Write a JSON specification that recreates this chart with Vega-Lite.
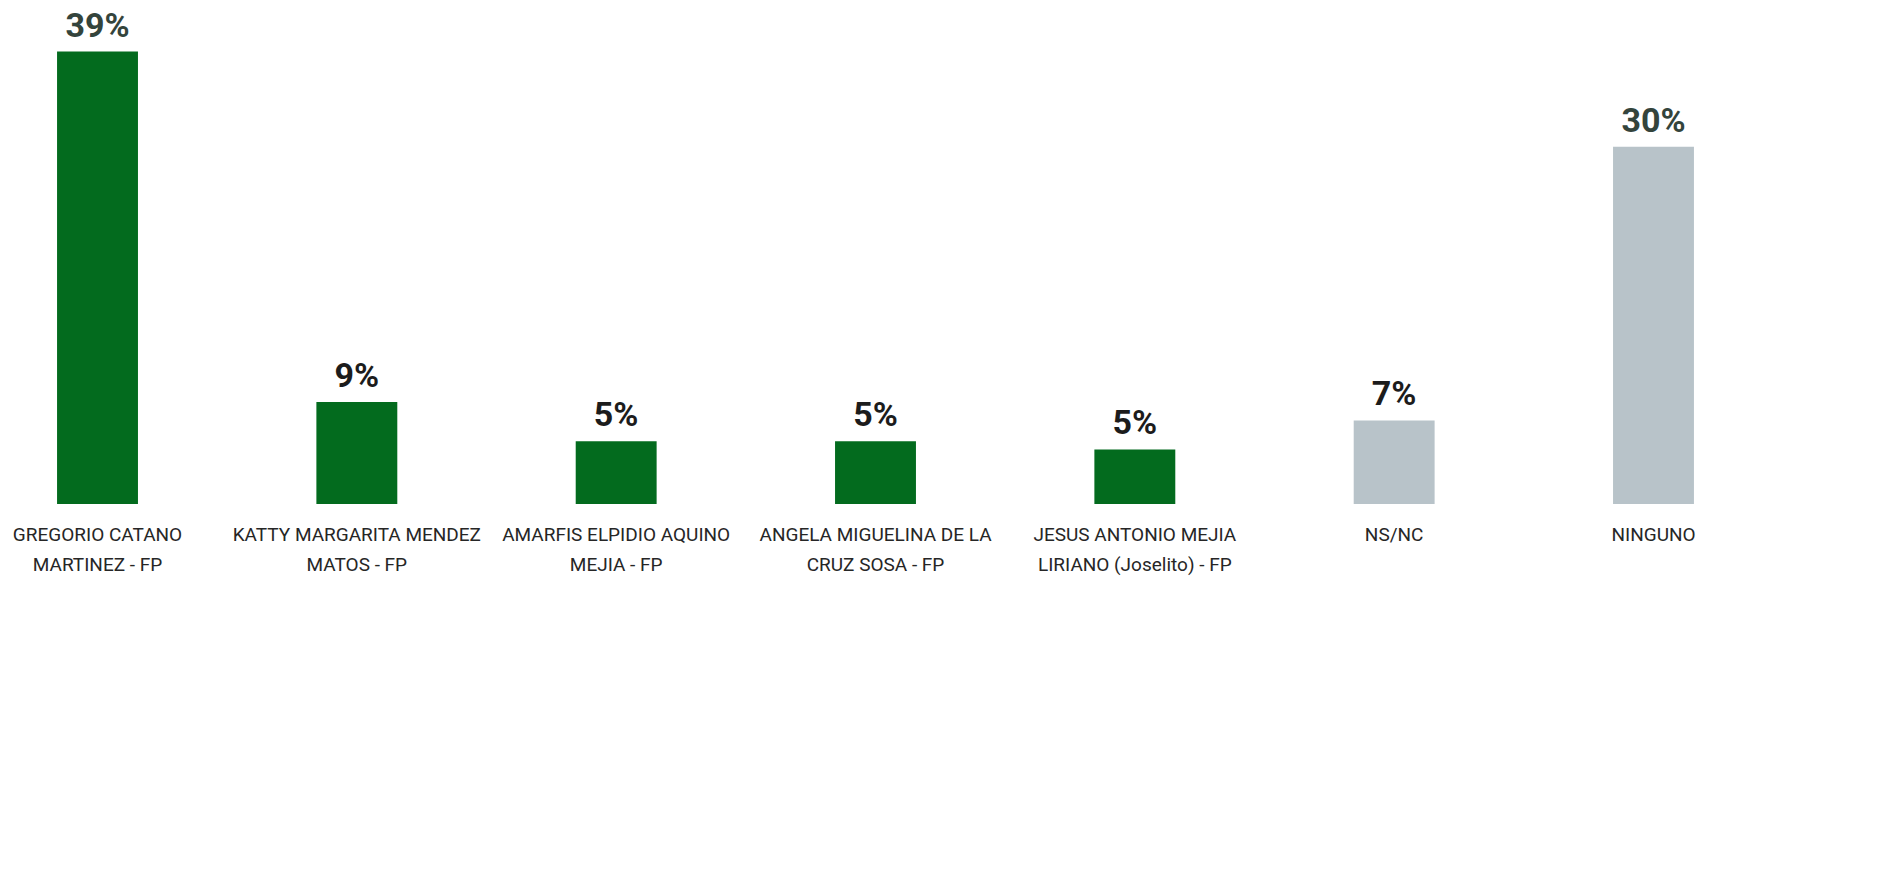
{
  "$schema": "https://vega.github.io/schema/vega-lite/v6.json",
  "width": 1751,
  "height": 504,
  "autosize": {"type": "none"},
  "padding": {"left": 0, "top": 0, "right": 143, "bottom": 373},
  "background": "white",
  "config": {"view": {"stroke": null}},
  "data": {
    "values": [
      {"candidato": "GREGORIO CATANO|MARTINEZ - FP", "tipo": "Candidato", "valor": 39.0, "etiqueta": "39%"},
      {"candidato": "KATTY MARGARITA MENDEZ|MATOS - FP", "tipo": "Candidato", "valor": 8.8, "etiqueta": "9%"},
      {"candidato": "AMARFIS ELPIDIO AQUINO|MEJIA - FP", "tipo": "Candidato", "valor": 5.4, "etiqueta": "5%"},
      {"candidato": "ANGELA MIGUELINA DE LA|CRUZ SOSA - FP", "tipo": "Candidato", "valor": 5.4, "etiqueta": "5%"},
      {"candidato": "JESUS ANTONIO MEJIA|LIRIANO (Joselito) - FP", "tipo": "Candidato", "valor": 4.7, "etiqueta": "5%"},
      {"candidato": "NS/NC", "tipo": "Otro", "valor": 7.2, "etiqueta": "7%"},
      {"candidato": "NINGUNO", "tipo": "Otro", "valor": 30.8, "etiqueta": "30%"}
    ]
  },
  "encoding": {
    "x": {
      "field": "candidato",
      "type": "nominal",
      "sort": null,
      "scale": {"paddingInner": 0.688, "paddingOuter": 0.22},
      "axis": {
        "title": null,
        "domain": false,
        "ticks": false,
        "labelAngle": 0,
        "labelExpr": "split(datum.label, '|')",
        "labelFont": "Roboto",
        "labelFontSize": 19,
        "labelColor": "#262626",
        "labelBaseline": "top",
        "labelPadding": 21,
        "labelLineHeight": 30,
        "labelLimit": 0
      }
    },
    "y": {
      "field": "valor",
      "type": "quantitative",
      "scale": {"domain": [0, 43.45], "nice": false},
      "axis": null
    }
  },
  "layer": [
    {
      "mark": {"type": "bar"},
      "encoding": {
        "color": {
          "field": "tipo",
          "type": "nominal",
          "scale": {"domain": ["Candidato", "Otro"], "range": ["#036b1e", "#b8c3c9"]},
          "legend": null
        }
      }
    },
    {
      "mark": {"type": "text", "font": "Roboto", "fontWeight": "bold", "fontSize": 34, "baseline": "alphabetic", "dy": -15},
      "encoding": {
        "text": {"field": "etiqueta"},
        "color": {
          "condition": {"test": "datum.valor > 20", "value": "#34443c"},
          "value": "#1c1c1c"
        }
      }
    }
  ]
}
